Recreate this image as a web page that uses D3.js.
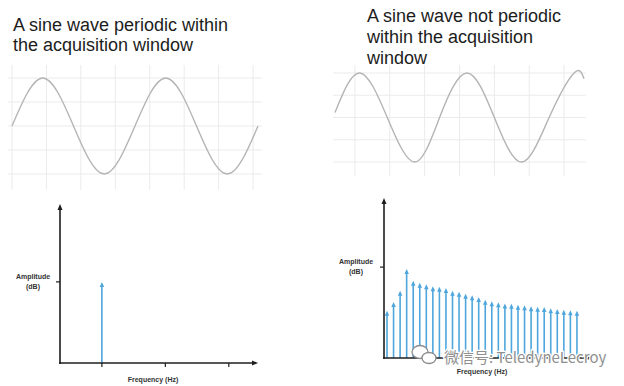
<!DOCTYPE html>
<html>
<head>
<meta charset="utf-8">
<script src="https://cdn.jsdelivr.net/npm/d3@7.9.0/dist/d3.min.js"></script>
<style>
  html, body { margin: 0; padding: 0; background: #fff; }
  svg { display: block; }
</style>
</head>
<body>
<div id="chart"></div>
<script>
// --- Data ---
const leftTitle = ["A sine wave periodic within", "the acquisition window"];
const rightTitle = ["A sine wave not periodic", "within the acquisition", "window"];

// sine key points: [t in window (0..1), amplitude]
const leftWave = [[0, 0], [0.125, 1], [0.25, 0], [0.375, -1], [0.5, 0], [0.625, 1], [0.75, 0], [0.875, -1], [1, 0]];
const rightWave = [[0, 0.11], [0.10, 1], [0.21, 0], [0.32, -1], [0.42, 0], [0.53, 1], [0.64, 0], [0.75, -1], [0.86, 0], [0.96, 1], [1, 0.87]];
const gridLevels = [-1, -0.5, 0, 0.5, 1];
const leftGridT = [0, 0.14, 0.28, 0.42, 0.56, 0.70, 0.84, 0.98];
const rightGridT = [0.08, 0.22, 0.36, 0.50, 0.64, 0.78, 0.92];

// spectra
const leftFreqTicks = [1, 2, 3];
const leftBins = [{ f: 1, a: 10 }];
const rightAmps = [5.2, 6.15, 7.4, 9.8, 8.5, 8.27, 8.1, 7.9, 7.84, 7.7, 7.4, 7.3, 7.07, 6.9, 6.7,
  6.4, 6.23, 6.12, 6.0, 5.97, 5.86, 5.8, 5.7, 5.64, 5.6, 5.46, 5.4, 5.3, 5.24, 5.2];
const refLevel = 10; // the "Amplitude (dB)" tick
const yLabel = ["Amplitude", "(dB)"];
const xLabel = "Frequency (Hz)";
const watermark = "微信号: TeledyneLecroy";

// --- Setup ---
const W = 624, H = 386;
const WAVE = "#b4b4b4";
const GRID = "#ebebeb";
const STEM = "#4ea6dc";
const AXIS = "#1e1e1e";

const svg = d3.select("#chart").append("svg").attr("width", W).attr("height", H);
svg.append("rect").attr("width", W).attr("height", H).attr("fill", "#fff");

function title(lines, x, y0, dy) {
  svg.append("g")
    .selectAll("text")
    .data(lines)
    .join("text")
    .attr("x", x)
    .attr("y", (d, i) => y0 + i * dy)
    .attr("font-family", "Liberation Sans, Arial, sans-serif")
    .attr("font-size", 18)
    .attr("fill", "#1c1c1c")
    .text((d) => d);
}

function wavePanel(pts, gridT, x0, x1, yTop, yBot, gx0, gx1, gy0, gy1) {
  const x = d3.scaleLinear().domain([0, 1]).range([x0, x1]);
  const y = d3.scaleLinear().domain([-1, 1]).range([yBot, yTop]);
  const g = svg.append("g");
  g.selectAll("line.h")
    .data(gridLevels)
    .join("line")
    .attr("class", "h")
    .attr("x1", gx0).attr("x2", gx1)
    .attr("y1", (d) => y(d)).attr("y2", (d) => y(d))
    .attr("stroke", GRID);
  g.selectAll("line.v")
    .data(gridT)
    .join("line")
    .attr("class", "v")
    .attr("x1", (d) => x(d)).attr("x2", (d) => x(d))
    .attr("y1", gy0).attr("y2", gy1)
    .attr("stroke", GRID);
  g.append("path")
    .datum(pts)
    .attr("d", d3.line().x((d) => x(d[0])).y((d) => y(d[1])).curve(d3.curveNatural))
    .attr("fill", "none")
    .attr("stroke", WAVE)
    .attr("stroke-width", 1.4);
}

function arrowUp(g, cx, tipY, w, h, color) {
  g.append("path")
    .attr("d", `M${cx},${tipY} L${cx - w / 2},${tipY + h} L${cx + w / 2},${tipY + h} Z`)
    .attr("fill", color);
}

function spectrum(bins, x, y, opts) {
  const g = svg.append("g");
  const [ax0, ax1] = x.range();
  const [base, top] = y.range();

  // stems
  bins.forEach((d) => {
    const cx = x(d.f), ty = y(d.a);
    g.append("line")
      .attr("x1", cx).attr("x2", cx)
      .attr("y1", base).attr("y2", ty + 3)
      .attr("stroke", STEM).attr("stroke-width", 1.6);
    arrowUp(g, cx, ty, 4.5, 5, STEM);
  });

  // axes
  g.append("line")
    .attr("x1", ax0).attr("x2", ax0)
    .attr("y1", base + 1).attr("y2", top + 3)
    .attr("stroke", AXIS).attr("stroke-width", 1.6);
  arrowUp(g, ax0, top, 5, 6, AXIS);
  g.append("line")
    .attr("x1", ax0 - 1).attr("x2", ax1 - 3)
    .attr("y1", base).attr("y2", base)
    .attr("stroke", AXIS).attr("stroke-width", 1.6);
  g.append("path")
    .attr("d", `M${ax1},${base} L${ax1 - 6},${base - 2.5} L${ax1 - 6},${base + 2.5} Z`)
    .attr("fill", AXIS);

  // amplitude tick + label
  g.append("line")
    .attr("x1", ax0 - 4).attr("x2", ax0)
    .attr("y1", y(refLevel)).attr("y2", y(refLevel))
    .attr("stroke", AXIS).attr("stroke-width", 1.2);
  g.selectAll("text.yl")
    .data(yLabel)
    .join("text")
    .attr("class", "yl")
    .attr("x", opts.ylx)
    .attr("y", (d, i) => opts.yly + i * 10)
    .attr("text-anchor", "middle")
    .attr("font-family", "Liberation Sans, Arial, sans-serif")
    .attr("font-weight", "bold")
    .attr("font-size", 7)
    .attr("fill", "#333")
    .text((d) => d);

  // frequency ticks
  g.selectAll("line.xt")
    .data(opts.ticks)
    .join("line")
    .attr("class", "xt")
    .attr("x1", (d) => x(d)).attr("x2", (d) => x(d))
    .attr("y1", base).attr("y2", base + 4)
    .attr("stroke", AXIS).attr("stroke-width", 1.2);

  g.append("text")
    .attr("x", opts.xlx)
    .attr("y", opts.xly)
    .attr("text-anchor", "middle")
    .attr("font-family", "Liberation Sans, Arial, sans-serif")
    .attr("font-weight", "bold")
    .attr("font-size", 7)
    .attr("fill", "#333")
    .text(xLabel);
}

// --- Titles ---
title(leftTitle, 13, 31, 20);
title(rightTitle, 367, 22, 21);

// --- Sine waves ---
wavePanel(leftWave, leftGridT, 12, 258, 78, 174, 8, 262, 65, 190);
wavePanel(rightWave, rightGridT, 335, 584, 73, 162, 333, 586, 65, 176);

// --- Spectra ---
const xl = d3.scaleLinear().domain([0.34, 3.46]).range([60, 258]);
const yl = d3.scaleLinear().domain([0, 19.6]).range([363, 204]);
spectrum(leftBins, xl, yl, { ticks: leftFreqTicks, ylx: 33, yly: 279, xlx: 153, xly: 382 });

const xr = d3.scaleLinear().domain([-0.46, 31.3]).range([384, 592]);
const yr = d3.scaleLinear().domain([0, 17.6]).range([358, 198]);
spectrum(rightAmps.map((a, i) => ({ f: i, a })), xr, yr, { ticks: [], ylx: 356, yly: 264, xlx: 482, xly: 374 });

// --- Watermark ---
const wm = svg.append("g");
wm.append("ellipse").attr("cx", 420).attr("cy", 352).attr("rx", 8).attr("ry", 6.5)
  .attr("fill", "#fff").attr("stroke", "#8c8c8c").attr("stroke-width", 1.3);
wm.append("ellipse").attr("cx", 429).attr("cy", 358).attr("rx", 7).attr("ry", 5.5)
  .attr("fill", "#fff").attr("stroke", "#8c8c8c").attr("stroke-width", 1.3);
wm.append("text")
  .attr("x", 444)
  .attr("y", 363)
  .attr("font-family", "Noto Sans CJK SC, Noto Sans, sans-serif")
  .attr("font-size", 15)
  .attr("fill", "#8f8f8f")
  .attr("stroke", "#fff")
  .attr("stroke-width", 2.5)
  .attr("paint-order", "stroke")
  .text(watermark);
</script>
</body>
</html>
